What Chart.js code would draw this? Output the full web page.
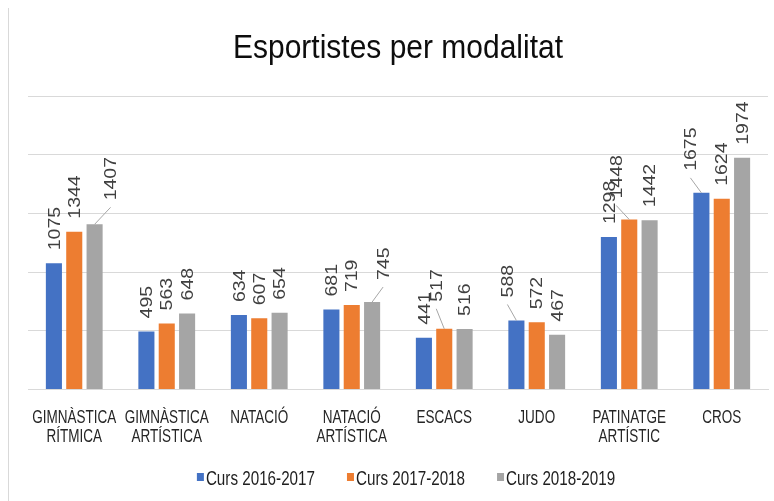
<!DOCTYPE html>
<html>
<head>
<meta charset="utf-8">
<script src="https://cdn.jsdelivr.net/npm/chart.js@4.4.1/dist/chart.umd.min.js"></script>
<style>
    html, body { margin: 0; padding: 0; background: #fff; }
    #wrap { width: 774px; height: 501px; }
</style>
</head>
<body>
<div id="wrap"><canvas id="sportsChart"></canvas></div>
<script>
// categories and values
var modalities = [
    ['GIMNÀSTICA', 'RÍTMICA'],
    ['GIMNÀSTICA', 'ARTÍSTICA'],
    'NATACIÓ',
    ['NATACIÓ', 'ARTÍSTICA'],
    'ESCACS',
    'JUDO',
    ['PATINATGE', 'ARTÍSTIC'],
    'CROS'
];
var seriesNames = ['Curs 2016-2017', 'Curs 2017-2018', 'Curs 2018-2019'];
var curs1617 = [1075, 495, 634, 681, 441, 588, 1298, 1675];
var curs1718 = [1344, 563, 607, 719, 517, 572, 1448, 1624];
var curs1819 = [1407, 648, 654, 745, 516, 467, 1442, 1974];
var yTicks = [0, 500, 1000, 1500, 2000, 2500];

const chartTitle = 'Esportistes per modalitat';
const seriesColors = ['#4472C4', '#ED7D31', '#A5A5A5'];
const sans = "'Liberation Sans', Arial, sans-serif";

// labels that were moved away from their bar (dx, dy in px) -> drawn with a leader line
const labelShift = {
    '2-0': [16, -11],
    '2-3': [11, -9],
    '1-4': [-8, -14],
    '0-5': [-9, -10],
    '1-6': [-13, -8],
    '0-7': [-11, -9]
};

// the original uses a narrow face, so text is squeezed sideways
function narrowText(ctx, text, x, y, size, squeeze, align, color) {
    ctx.save();
    ctx.font = size + 'px ' + sans;
    ctx.fillStyle = color;
    ctx.textBaseline = 'alphabetic';
    ctx.textAlign = align;
    ctx.translate(x, y);
    ctx.scale(squeeze, 1);
    ctx.fillText(text, 0, 0);
    ctx.restore();
}

function textWidth(ctx, text, size, squeeze) {
    ctx.save();
    ctx.font = size + 'px ' + sans;
    const w = ctx.measureText(text).width * squeeze;
    ctx.restore();
    return w;
}

const frameLine = {
    id: 'frameLine',
    beforeDraw(chart) {
        const ctx = chart.ctx;
        ctx.save();
        ctx.strokeStyle = '#d9d9d9';
        ctx.lineWidth = 1;
        ctx.beginPath();
        ctx.moveTo(8.5, 8);
        ctx.lineTo(8.5, chart.height);
        ctx.stroke();
        ctx.restore();
    }
};

const textParts = {
    id: 'textParts',
    afterDraw(chart) {
        const ctx = chart.ctx;
        const area = chart.chartArea;
        const xScale = chart.scales.x;
        const mid = (area.left + area.right) / 2;

        // title
        narrowText(ctx, chartTitle, mid, 57.5, 33.5, 0.895, 'center', '#0d0d0d');

        // category labels under the axis
        chart.data.labels.forEach((lab, i) => {
            const lines = Array.isArray(lab) ? lab : [lab];
            const x = xScale.getPixelForTick(i);
            lines.forEach((line, k) => {
                narrowText(ctx, line, x, area.bottom + 33.5 + k * 18.5, 18.5, 0.73, 'center', '#262626');
            });
        });

        // legend
        const box = 7, gap = 2, spacing = 32, size = 19.5, squeeze = 0.78;
        const widths = chart.data.datasets.map(ds => box + gap + textWidth(ctx, ds.label, size, squeeze));
        const total = widths.reduce((a, b) => a + b, 0) + spacing * (widths.length - 1);
        let lx = mid + 8 - total / 2;
        const baseY = 485.3;
        chart.data.datasets.forEach((ds, i) => {
            ctx.fillStyle = ds.backgroundColor;
            ctx.fillRect(lx, baseY - 12.3, box, 8);
            narrowText(ctx, ds.label, lx + box + gap, baseY, size, squeeze, 'left', '#1f1f1f');
            lx += widths[i] + spacing;
        });
    }
};

const barLabels = {
    id: 'barLabels',
    afterDatasetsDraw(chart) {
        const ctx = chart.ctx;
        ctx.save();
        ctx.font = '19.5px ' + sans;
        ctx.fillStyle = '#404040';
        chart.data.datasets.forEach((ds, di) => {
            const meta = chart.getDatasetMeta(di);
            meta.data.forEach((bar, i) => {
                const shift = labelShift[di + '-' + i] || [0, 0];
                const x = bar.x + shift[0];
                const y = bar.y - 13 + shift[1];
                if (shift[0] || shift[1]) {
                    ctx.strokeStyle = '#a6a6a6';
                    ctx.lineWidth = 1;
                    ctx.beginPath();
                    ctx.moveTo(bar.x, bar.y);
                    ctx.lineTo(x, y + 7);
                    ctx.stroke();
                }
                ctx.save();
                ctx.translate(x, y);
                ctx.rotate(-Math.PI / 2);
                ctx.scale(1, 0.88);
                ctx.textAlign = 'left';
                ctx.textBaseline = 'middle';
                ctx.fillText(String(ds.data[i]), 0, 1);
                ctx.restore();
            });
        });
        ctx.restore();
    }
};

const chart = new Chart(document.getElementById('sportsChart').getContext('2d'), {
    type: 'bar',
    data: {
        labels: modalities,
        datasets: [curs1617, curs1718, curs1819].map((vals, k) => ({
            label: seriesNames[k],
            data: vals,
            backgroundColor: seriesColors[k],
            categoryPercentage: 0.66,
            barPercentage: 0.79
        }))
    },
    options: {
        responsive: true,
        maintainAspectRatio: false,
        animation: false,
        layout: { padding: { left: 28, right: 6, top: 96, bottom: 111.5 } },
        plugins: {
            title: { display: false },
            legend: { display: false },
            tooltip: { enabled: false }
        },
        scales: {
            x: {
                grid: { display: false, drawTicks: false },
                border: { display: true, color: '#d9d9d9' },
                ticks: { display: false }
            },
            y: {
                min: 0,
                max: 2500,
                afterBuildTicks: function (axis) {
                    axis.ticks = yTicks.map(v => ({ value: v }));
                },
                grid: { color: '#d9d9d9', drawTicks: false },
                border: { display: false },
                ticks: { display: false }
            }
        }
    },
    plugins: [frameLine, barLabels, textParts]
});
</script>
</body>
</html>
